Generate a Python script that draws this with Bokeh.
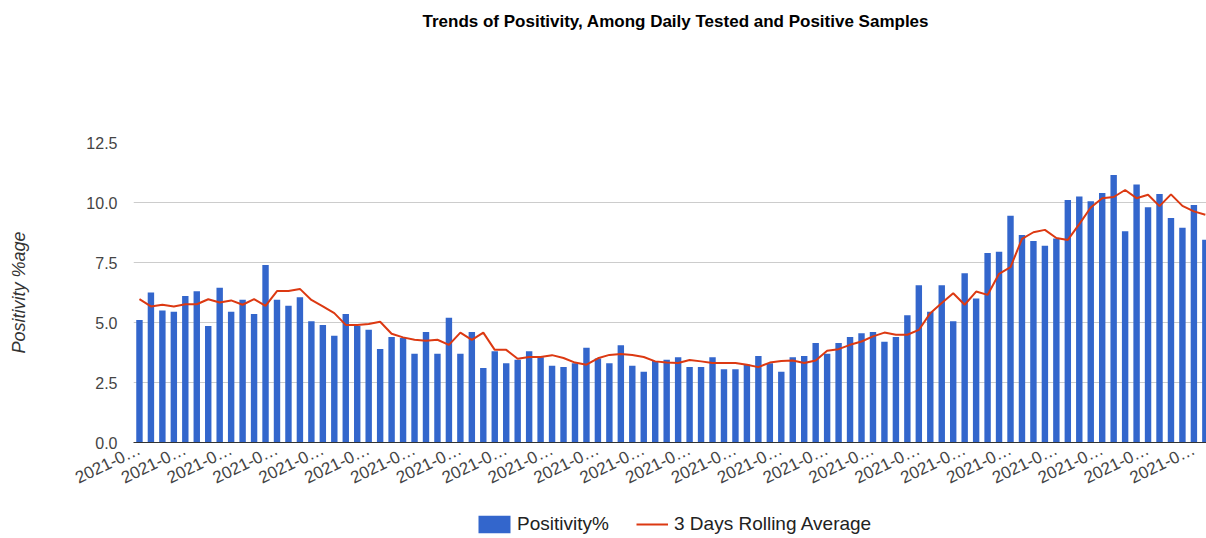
import math
from bokeh.plotting import figure
from bokeh.layouts import column
from bokeh.models import (ColumnDataSource, FixedTicker, Legend, LegendItem,
                          Range1d, NumeralTickFormatter, Title)
from bokeh.embed import file_html
from bokeh.resources import INLINE

# ---- data ----
positivity = [5.1, 6.25, 5.5, 5.45, 6.1, 6.3, 4.85, 6.45, 5.45, 5.95,
              5.35, 7.4, 5.95, 5.7, 6.05, 5.05, 4.9, 4.45, 5.35, 4.85,
              4.7, 3.9, 4.4, 4.35, 3.7, 4.6, 3.7, 5.2, 3.7, 4.6,
              3.1, 3.8, 3.3, 3.45, 3.8, 3.55, 3.2, 3.15, 3.3, 3.95,
              3.5, 3.3, 4.05, 3.2, 2.95, 3.4, 3.45, 3.55, 3.15, 3.15,
              3.55, 3.05, 3.05, 3.25, 3.6, 3.3, 2.95, 3.55, 3.6, 4.15,
              3.7, 4.15, 4.4, 4.55, 4.6, 4.2, 4.4, 5.3, 6.55, 5.45,
              6.55, 5.05, 7.05, 6.0, 7.9, 7.95, 9.45, 8.65, 8.4, 8.2,
              8.5, 10.1, 10.25, 10.05, 10.4, 11.15, 8.8, 10.75, 9.8, 10.35,
              9.35, 8.95, 9.9, 8.45]

rolling_avg = [5.97, 5.67, 5.74, 5.67, 5.76, 5.76, 5.97, 5.83, 5.92, 5.74,
               5.97, 5.69, 6.31, 6.31, 6.40, 5.94, 5.67, 5.39, 4.90, 4.90,
               4.94, 5.03, 4.53, 4.38, 4.28, 4.24, 4.28, 4.07, 4.58, 4.28,
               4.58, 3.86, 3.86, 3.49, 3.56, 3.56, 3.64, 3.52, 3.33, 3.24,
               3.51, 3.65, 3.69, 3.65, 3.56, 3.38, 3.33, 3.31, 3.44, 3.38,
               3.31, 3.31, 3.31, 3.24, 3.14, 3.33, 3.40, 3.42, 3.31, 3.42,
               3.82, 3.89, 4.07, 4.21, 4.42, 4.58, 4.49, 4.49, 4.69, 5.39,
               5.81, 6.22, 5.74, 6.29, 6.15, 7.03, 7.31, 8.48, 8.76, 8.86,
               8.52, 8.44, 9.10, 9.79, 10.18, 10.23, 10.52, 10.18, 10.32, 9.85,
               10.34, 9.86, 9.63, 9.49]

tick_positions = [0, 4, 8, 12, 16, 20, 24, 28, 32, 36, 40, 44,
                  48, 52, 56, 60, 64, 68, 72, 76, 80, 84, 88, 92]
tick_labels = ["2021-0…", "2021-0…", "2021-0…", "2021-0…", "2021-0…", "2021-0…",
               "2021-0…", "2021-0…", "2021-0…", "2021-0…", "2021-0…", "2021-0…",
               "2021-0…", "2021-0…", "2021-0…", "2021-0…", "2021-0…", "2021-0…",
               "2021-0…", "2021-0…", "2021-0…", "2021-0…", "2021-0…", "2021-0…"]
y_ticks = [0, 2.5, 5, 7.5, 10, 12.5]
series_names = ["Positivity%", "3 Days Rolling Average"]

TITLE = "Trends of Positivity, Among Daily Tested and Positive Samples"
FONT = "Liberation Sans"
BLUE = "#3366CC"
RED = "#DC3912"

src = ColumnDataSource(dict(x=list(range(len(positivity))),
                            pos=positivity, avg=rolling_avg))

p = figure(frame_width=1073, frame_height=300,
           output_backend="svg", toolbar_location=None,
           x_range=Range1d(-0.52, 93.1), y_range=Range1d(0, 12.5),
           min_border_left=133, min_border_right=0,
           min_border_top=142, min_border_bottom=70)
p.outline_line_color = None

p.vbar(x="x", top="pos", width=0.56, source=src, fill_color=BLUE, line_color=None)
p.line(x="x", y="avg", source=src, line_color=RED, line_width=2)

# spacer between frame and title, then the title itself
p.add_layout(Title(text=" ", text_font_size="1px", standoff=108), "above")
p.add_layout(Title(text=TITLE, align="left", offset=289, vertical_align="middle",
                   text_font=FONT, text_font_size="17px", text_font_style="bold",
                   text_color="#000000", standoff=0), "above")

# y axis
ya = p.yaxis[0]
ya.ticker = FixedTicker(ticks=y_ticks)
ya.formatter = NumeralTickFormatter(format="0.0")
ya.axis_line_color = None
ya.major_tick_line_color = None
ya.minor_tick_line_color = None
ya.major_tick_out = 0
ya.major_tick_in = 0
ya.minor_tick_out = 0
ya.major_label_text_font = FONT
ya.major_label_text_font_size = "16px"
ya.major_label_text_color = "#444444"
ya.major_label_standoff = 16
ya.axis_label = "Positivity %age"
ya.axis_label_text_font = FONT
ya.axis_label_text_font_size = "18px"
ya.axis_label_text_font_style = "italic"
ya.axis_label_text_color = "#333333"
ya.axis_label_standoff = 54

# x axis
xa = p.xaxis[0]
xa.ticker = FixedTicker(ticks=tick_positions)
xa.major_label_overrides = {t: l for t, l in zip(tick_positions, tick_labels)}
xa.major_label_orientation = math.pi / 7
xa.major_tick_line_color = None
xa.minor_tick_line_color = None
xa.major_tick_out = 0
xa.major_tick_in = 0
xa.minor_tick_out = 0
xa.axis_line_color = "#333333"
xa.axis_line_width = 1
xa.major_label_text_font = FONT
xa.major_label_text_font_size = "17px"
xa.major_label_text_color = "#444444"
xa.major_label_standoff = 6

p.xgrid.grid_line_color = None
p.ygrid.grid_line_color = "#cccccc"
p.ygrid.ticker = FixedTicker(ticks=y_ticks)

# ---- legend strip below the chart (its frame is aligned with the chart's) ----
leg = figure(width=1206, height=26, output_backend="svg", toolbar_location=None,
             x_range=Range1d(-20, -19), y_range=Range1d(0, 1),
             x_axis_type=None, y_axis_type=None,
             min_border_left=0, min_border_right=0,
             min_border_top=0, min_border_bottom=0)
leg.outline_line_color = None
# proxies for the legend swatches (same data, kept outside the visible range)
r_bar = leg.vbar(x="x", top="pos", width=0.56, source=src, fill_color=BLUE, line_color=None)
r_line = leg.line(x="x", y="avg", source=src, line_color=RED, line_width=2)

common = dict(orientation="horizontal", glyph_height=22, label_text_font=FONT,
              label_text_font_size="19px", label_text_color="#222222",
              border_line_color=None, background_fill_alpha=0, padding=0, margin=0)
leg.add_layout(Legend(items=[LegendItem(label=series_names[0], renderers=[r_bar])],
                      location=(341, 3), glyph_width=40, label_standoff=3, **common),
               "center")
leg.add_layout(Legend(items=[LegendItem(label=series_names[1], renderers=[r_line])],
                      location=(503, 3), glyph_width=32, label_standoff=6, **common),
               "center")

open("out.html", "w").write(file_html(column(p, leg, spacing=0), INLINE))
